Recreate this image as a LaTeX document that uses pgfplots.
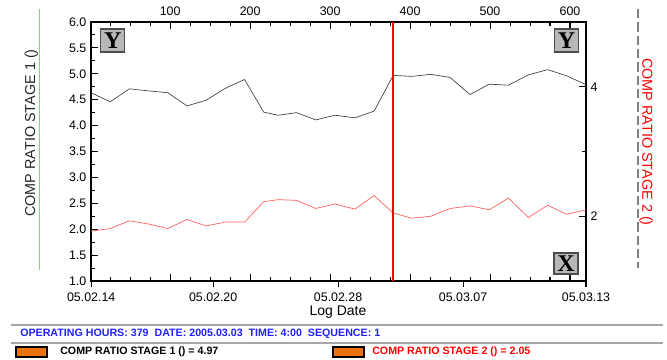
\documentclass[border=0pt]{standalone}
\usepackage{fontspec}
\setmainfont{Liberation Sans}
\newfontfamily\serifb{Liberation Serif}
\usepackage{pgfplots}
\pgfplotsset{compat=1.18}
\usepackage{pgfplotstable}

\definecolor{lineblack}{HTML}{404040}
\definecolor{linered}{HTML}{FF5A5A}
\definecolor{legorange}{HTML}{E8730C}
\definecolor{infoblue}{HTML}{1F1FFF}
\definecolor{boxgray}{HTML}{B8B8B8}
\definecolor{greenline}{HTML}{70E070}

\pgfplotstableread{
x y
1 4.635
25 4.46
49 4.71
73 4.67
97 4.635
121 4.38
145 4.49
169 4.72
193 4.89
217 4.26
235 4.20
258 4.25
282 4.11
306 4.20
331 4.15
355 4.28
379 4.97
402 4.95
426 4.99
450 4.93
475 4.60
499 4.80
523 4.78
548 4.98
572 5.08
596 4.96
620 4.79
}\stageone

\pgfplotstableread{
x y
1 1.77
25 1.81
49 1.93
73 1.88
97 1.81
121 1.95
145 1.85
169 1.91
193 1.91
217 2.225
235 2.256
258 2.246
282 2.12
306 2.19
331 2.11
355 2.32
379 2.05
402 1.97
426 2.00
450 2.12
475 2.16
499 2.10
523 2.28
548 1.98
572 2.17
596 2.03
620 2.10
}\stagetwo

\begin{document}
\begin{tikzpicture}
\useasboundingbox (0,0) rectangle (500.25pt,-270pt);
\pgfplotsset{base/.style={
  at={(68.25pt,-210.75pt)}, anchor=south west, scale only axis,
  width=371.25pt, height=194.25pt, xmin=1, xmax=620,
  /pgf/number format/assume math mode=true,
  tick label style={font=\fontsize{9.3}{11}\selectfont},
  axis line style={line width=0.9pt,-},
  x axis line style={-}, y axis line style={-},
  every tick/.style={black, line width=0.8pt}}}

% main axis: left y scale, stage 1
\begin{axis}[base, ymin=1, ymax=6,
  xtick=\empty,
  ytick={1,1.5,2,2.5,3,3.5,4,4.5,5,5.5,6},
  minor ytick={1.25,1.75,2.25,2.75,3.25,3.75,4.25,4.75,5.25,5.75},
  ytick pos=left, tick align=inside,
  major tick length=5pt, minor tick length=3pt,
  yticklabel style={/pgf/number format/.cd, fixed, fixed zerofill, precision=1}]
\addplot[lineblack, line width=0.5pt] table[x=x,y=y] {\stageone};
\end{axis}

% bottom date ticks
\begin{axis}[base, ymin=0, ymax=1, axis x line*=bottom, axis y line=none,
  xtick={1.25,153.75,310,466.25,620},
  xticklabels={05.02.14,05.02.20,05.02.28,05.03.07,05.03.13},
  tick align=outside, major tick length=4.5pt,
  xticklabel style={yshift=-1pt}]
\end{axis}

% bottom inner ticks
\begin{axis}[base, ymin=0, ymax=1, axis x line*=bottom, axis y line=none,
  xtick={100,200,300,400,500,600}, xticklabels={},
  minor xtick={25,50,75,125,150,175,225,250,275,325,350,375,425,450,475,525,550,575},
  tick align=inside, major tick length=5pt, minor tick length=3pt]
\end{axis}

% top and right axes: stage 2
\begin{axis}[base, ymin=1, ymax=5, axis x line*=top, axis y line*=right,
  xtick={100,200,300,400,500,600},
  minor xtick={25,50,75,125,150,175,225,250,275,325,350,375,425,450,475,525,550,575,600},
  ytick={2,4}, minor ytick={3},
  tick align=inside, major tick length=5pt, minor tick length=3pt,
  xticklabel style={yshift=1pt}]
\addplot[linered, line width=0.5pt] table[x=x,y=y] {\stagetwo};
\addplot[red, line width=1.4pt] coordinates {(379,1) (379,5)};
\end{axis}

\begin{scope}[x=0.75pt,y=-0.75pt]
\draw[greenline, line width=1pt] (39.5,9) -- (39.5,270);
\draw[gray, line width=0.8pt, dash pattern=on 7pt off 3pt] (638,9) -- (638,268);
\node[rotate=90, text=black!85, font=\fontsize{10.8}{12}\selectfont] at (31.5,133) {COMP RATIO STAGE 1 ()};
\node[rotate=-90, text=red, font=\fontsize{10.8}{12}\selectfont] at (646,142) {COMP RATIO STAGE 2 ()};
\node[font=\fontsize{10.5}{12}\selectfont] at (338,312) {Log Date};
\node[draw=black!70, fill=boxgray, line width=0.8pt, minimum width=18pt, minimum height=17.25pt, inner sep=0pt, font=\serifb\bfseries\fontsize{18}{18}\selectfont] at (112.8,40.5) {Y};
\node[draw=black!70, fill=boxgray, line width=0.8pt, minimum width=18pt, minimum height=17.25pt, inner sep=0pt, font=\serifb\bfseries\fontsize{18}{18}\selectfont] at (566.5,40.5) {Y};
\node[draw=black!70, fill=boxgray, line width=0.8pt, minimum width=18pt, minimum height=15.75pt, inner sep=0pt, font=\serifb\bfseries\fontsize{18}{18}\selectfont] at (566,263.5) {X};
\draw[gray!70, line width=0.8pt] (11,325) -- (663,325);
\draw[gray!70, line width=0.8pt] (11,343) -- (663,343);
\node[anchor=west, inner sep=0pt, text=infoblue, font=\bfseries\fontsize{8}{9}\selectfont] at (20,334) {OPERATING HOURS: 379\ \ DATE: 2005.03.03\ \ TIME: 4:00\ \ SEQUENCE: 1};
\draw[black, line width=2.2pt, fill=legorange] (16,347) rectangle (47,357);
\node[anchor=west, inner sep=0pt, text=black, font=\bfseries\fontsize{8}{9}\selectfont] at (60,352) {COMP RATIO STAGE 1 () = 4.97};
\draw[black, line width=2.2pt, fill=legorange] (333,347) rectangle (364,357);
\node[anchor=west, inner sep=0pt, text=red, font=\bfseries\fontsize{8}{9}\selectfont] at (372,352) {COMP RATIO STAGE 2 () = 2.05};
\end{scope}
\end{tikzpicture}
\end{document}
